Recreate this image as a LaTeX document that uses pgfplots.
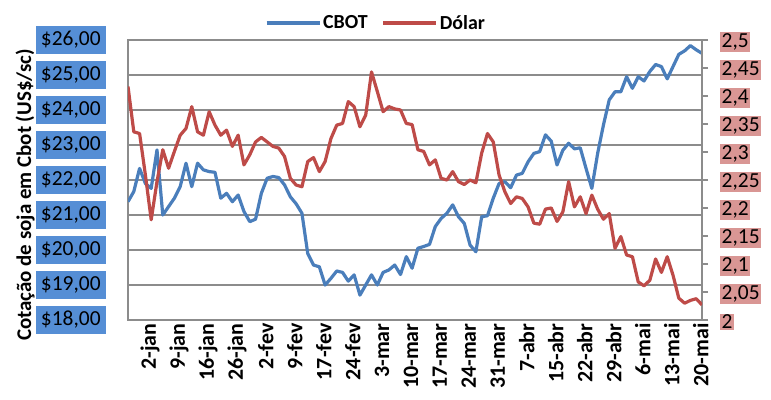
\documentclass[border=0pt]{standalone}
\usepackage{fontspec}
\setmainfont{Carlito}
\usepackage{pgfplots}
\pgfplotsset{compat=1.18}
\definecolor{cbot}{RGB}{74,126,187}
\definecolor{dolar}{RGB}{190,75,72}
\definecolor{lblue}{RGB}{85,142,213}
\definecolor{lpink}{RGB}{217,150,148}
\definecolor{gridg}{RGB}{140,140,140}
\pgfplotstableread{
i cbot dolar
0 21.38 2.417
1 21.67 2.336
2 22.33 2.333
3 21.90 2.259
4 21.76 2.179
5 22.86 2.247
6 21.00 2.304
7 21.24 2.271
8 21.48 2.301
9 21.81 2.330
10 22.48 2.342
11 21.81 2.381
12 22.48 2.336
13 22.29 2.330
14 22.24 2.372
15 22.22 2.348
16 21.48 2.330
17 21.62 2.339
18 21.38 2.310
19 21.57 2.330
20 21.10 2.277
21 20.81 2.295
22 20.88 2.318
23 21.62 2.326
24 22.05 2.318
25 22.10 2.310
26 22.07 2.307
27 21.86 2.292
28 21.52 2.253
29 21.32 2.241
30 21.05 2.238
31 19.90 2.283
32 19.57 2.290
33 19.52 2.265
34 19.00 2.283
35 19.19 2.324
36 19.40 2.348
37 19.36 2.351
38 19.11 2.390
39 19.29 2.381
40 18.71 2.345
41 19.00 2.366
42 19.29 2.443
43 19.00 2.408
44 19.36 2.372
45 19.43 2.381
46 19.57 2.377
47 19.30 2.375
48 19.81 2.351
49 19.48 2.349
50 20.05 2.304
51 20.10 2.301
52 20.16 2.277
53 20.67 2.286
54 20.90 2.253
55 21.05 2.250
56 21.29 2.265
57 20.95 2.247
58 20.76 2.242
59 20.14 2.250
60 19.95 2.245
61 20.95 2.298
62 20.98 2.333
63 21.48 2.318
64 21.90 2.259
65 21.95 2.229
66 21.78 2.208
67 22.14 2.220
68 22.19 2.217
69 22.52 2.202
70 22.76 2.173
71 22.81 2.171
72 23.29 2.198
73 23.11 2.200
74 22.43 2.176
75 22.85 2.193
76 23.05 2.247
77 22.89 2.202
78 22.92 2.220
79 22.33 2.190
80 21.76 2.223
81 22.76 2.198
82 23.57 2.180
83 24.29 2.190
84 24.52 2.128
85 24.52 2.149
86 24.95 2.116
87 24.62 2.113
88 24.95 2.068
89 24.83 2.061
90 25.10 2.071
91 25.30 2.109
92 25.24 2.085
93 24.89 2.113
94 25.24 2.080
95 25.59 2.039
96 25.69 2.030
97 25.84 2.035
98 25.72 2.038
99 25.62 2.027
}\datatable
\begin{document}
\begin{tikzpicture}
\useasboundingbox (0,0) rectangle (771bp,400bp);
\clip (0,0) rectangle (771bp,400bp);
\begin{axis}[
  at={(128bp,80bp)}, anchor=south west,
  scale only axis, width=574bp, height=280bp,
  xmin=0, xmax=99, ymin=18, ymax=26,
  ytick={18,19,20,21,22,23,24,25,26},
  yticklabels={{\$18,00},{\$19,00},{\$20,00},{\$21,00},{\$22,00},{\$23,00},{\$24,00},{\$25,00},{\$26,00}},
  xtick={0,5,...,95},
  xticklabels={2-jan,9-jan,16-jan,26-jan,2-fev,9-fev,17-fev,24-fev,3-mar,10-mar,17-mar,24-mar,31-mar,7-abr,15-abr,22-abr,29-abr,6-mai,13-mai,20-mai},
  major tick length=0pt,
  ymajorgrids, grid style={gridg, line width=1.1bp},
  axis line style={gridg, line width=1.3bp},
  xticklabel style={rotate=90, anchor=east, font=\bfseries\fontsize{22}{22}\selectfont, yshift=-22bp},
  yticklabel style={fill=lblue, minimum width=70bp, minimum height=28bp, inner sep=0pt, anchor=east, xshift=-22bp, font=\fontsize{21.5}{21.5}\selectfont},
  ylabel={Cotação de soja em Cbot (US\$/sc)},
  ylabel style={at={(axis description cs:-0.179,0.446)}, anchor=center, font=\bfseries\fontsize{21}{21}\selectfont},
]
\addplot[cbot, line width=3.2bp, line join=round] table[x=i, y=cbot] {\datatable};
\end{axis}
\begin{axis}[
  at={(128bp,80bp)}, anchor=south west,
  scale only axis, width=574bp, height=280bp,
  xmin=0, xmax=99, ymin=2, ymax=2.5,
  axis y line*=right, axis x line=none,
  ytick={2,2.05,2.1,2.15,2.2,2.25,2.3,2.35,2.4,2.45,2.5},
  yticklabels={2,{2,05},{2,1},{2,15},{2,2},{2,25},{2,3},{2,35},{2,4},{2,45},{2,5}},
  tick align=outside, major tick length=6bp,
  tick style={gridg, line width=1.2bp},
  axis line style={gridg, line width=1.3bp},
  yticklabel style={fill=lpink, inner sep=1.5bp, anchor=west, xshift=12bp, yshift=-2bp, font=\fontsize{21.5}{21.5}\selectfont},
  legend columns=2,
  legend style={draw=none, fill=none, at={(0.432,1.061)}, anchor=center, font=\bfseries\fontsize{20}{20}\selectfont, /tikz/every even column/.append style={column sep=12bp}},
  legend image code/.code={\draw[#1, line width=3.2bp] (0bp,0bp) -- (53bp,0bp);},
]
\addlegendimage{cbot}
\addlegendentry{CBOT}
\addplot[dolar, line width=3.2bp, line join=round] table[x=i, y=dolar] {\datatable};
\addlegendentry{Dólar}
\end{axis}
\end{tikzpicture}
\end{document}
